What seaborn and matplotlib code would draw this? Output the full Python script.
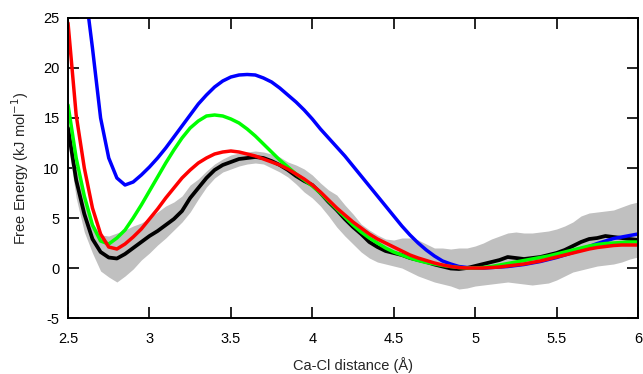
import numpy as np
import pandas as pd
import matplotlib
matplotlib.use('Agg')
import matplotlib.pyplot as plt
import seaborn as sns

# ---------------- data (x step 0.05 A) ----------------
dist = np.round(np.arange(2.5, 6.0001, 0.05), 2)

black = [14.0, 8.8, 5.4, 2.9, 1.6, 1.05, 0.95, 1.4, 2.0, 2.6,
         3.2, 3.7, 4.3, 4.9, 5.7, 7.0, 8.0, 9.0, 9.8, 10.3,
         10.6, 10.9, 11.0, 11.1, 11.0, 10.7, 10.3, 9.8, 9.2, 8.7,
         8.3, 7.5, 6.6, 5.8, 4.9, 4.1, 3.4, 2.6, 2.1, 1.7,
         1.5, 1.3, 1.0, 0.8, 0.6, 0.35, 0.15, -0.05, -0.1, 0.0,
         0.2, 0.4, 0.6, 0.8, 1.1, 1.0, 0.9, 1.0, 1.1, 1.3,
         1.5, 1.8, 2.2, 2.6, 2.9, 3.0, 3.2, 3.1, 3.0, 2.9, 2.8]

band_hi = [14.8, 10.0, 6.8, 4.5, 3.3, 3.2, 3.5, 3.8, 4.2, 4.5,
           5.0, 5.6, 6.2, 6.6, 7.2, 8.3, 8.9, 9.7, 10.4, 10.9,
           11.3, 11.5, 11.6, 11.7, 11.6, 11.4, 11.1, 10.6, 10.3, 9.9,
           9.3, 8.5, 7.8, 7.3, 6.3, 5.4, 4.4, 3.8, 3.3, 2.9,
           2.8, 3.0, 3.0, 2.8, 2.4, 2.0, 2.0, 1.9, 2.0, 2.0,
           2.2, 2.5, 2.9, 3.2, 3.5, 3.6, 3.5, 3.5, 3.6, 3.7,
           3.9, 4.2, 4.6, 5.2, 5.5, 5.6, 5.7, 5.8, 6.1, 6.4, 6.6]

band_lo = [12.5, 7.0, 3.6, 1.5, -0.3, -0.9, -1.4, -0.8, -0.1, 0.8,
           1.5, 2.3, 3.0, 3.8, 4.6, 5.6, 6.9, 8.1, 9.0, 9.6,
           9.9, 10.2, 10.4, 10.5, 10.4, 10.0, 9.6, 9.1, 8.4, 7.6,
           7.0, 6.2, 5.2, 4.1, 3.2, 2.4, 1.6, 1.0, 0.6, 0.4,
           0.2, 0.0, -0.4, -0.8, -1.1, -1.4, -1.6, -1.8, -2.1, -2.0,
           -1.8, -1.7, -1.6, -1.5, -1.4, -1.5, -1.6, -1.7, -1.6, -1.5,
           -1.2, -0.8, -0.4, -0.2, 0.0, 0.2, 0.3, 0.4, 0.6, 0.9, 1.1]

blue = [44.0, 36.0, 28.5, 22.0, 15.0, 11.0, 9.0, 8.3, 8.6, 9.3,
        10.1, 11.0, 12.0, 13.1, 14.2, 15.3, 16.4, 17.3, 18.1, 18.7,
        19.1, 19.3, 19.35, 19.3, 19.0, 18.6, 18.0, 17.3, 16.6, 15.8,
        14.9, 13.9, 13.0, 12.1, 11.2, 10.2, 9.2, 8.2, 7.2, 6.2,
        5.2, 4.2, 3.3, 2.5, 1.8, 1.2, 0.7, 0.4, 0.15, 0.05,
        0.0, 0.0, 0.05, 0.1, 0.15, 0.25, 0.35, 0.5, 0.65, 0.85,
        1.05, 1.3, 1.55, 1.85, 2.15, 2.45, 2.7, 2.95, 3.1, 3.25, 3.4]

green = [16.3, 11.0, 7.2, 4.3, 2.7, 2.4, 3.0, 3.8, 5.0, 6.3,
         7.7, 9.1, 10.5, 11.8, 13.0, 14.0, 14.7, 15.2, 15.3, 15.2,
         14.9, 14.5, 13.9, 13.2, 12.4, 11.6, 10.8, 10.1, 9.4, 8.8,
         8.2, 7.5, 6.7, 5.9, 5.1, 4.3, 3.6, 3.0, 2.5, 2.0,
         1.6, 1.3, 1.0, 0.75, 0.55, 0.4, 0.25, 0.15, 0.05, 0.0,
         0.0, 0.05, 0.15, 0.3, 0.45, 0.6, 0.75, 0.9, 1.05, 1.2,
         1.4, 1.6, 1.8, 2.0, 2.2, 2.35, 2.45, 2.5, 2.55, 2.6, 2.6]

red = [24.5, 15.3, 10.0, 6.0, 3.4, 2.1, 1.9, 2.4, 3.1, 3.9,
       4.9, 5.9, 7.0, 8.0, 9.0, 9.8, 10.5, 11.0, 11.4, 11.6,
       11.7, 11.6, 11.4, 11.2, 10.9, 10.6, 10.3, 9.9, 9.4, 8.9,
       8.3, 7.6, 6.8, 6.0, 5.3, 4.6, 4.0, 3.4, 2.9, 2.5,
       2.1, 1.7, 1.3, 1.0, 0.75, 0.5, 0.3, 0.15, 0.05, 0.0,
       0.0, 0.0, 0.05, 0.1, 0.2, 0.3, 0.4, 0.55, 0.7, 0.9,
       1.1, 1.3, 1.5, 1.7, 1.9, 2.05, 2.15, 2.25, 2.3, 2.3, 2.3]

df = pd.DataFrame({'dist': dist, 'black': black, 'lo': band_lo, 'hi': band_hi,
                   'blue': blue, 'green': green, 'red': red})

# ---------------- plot ----------------
sns.set_style('ticks')
plt.rcParams['font.family'] = ['Liberation Sans', 'DejaVu Sans']

fig, ax = plt.subplots(figsize=(6.43, 3.74), dpi=100)
fig.subplots_adjust(left=0.1058, right=0.9922, top=0.9519, bottom=0.1497)

ax.fill_between(df['dist'], df['lo'], df['hi'], color='#c0c0c0', lw=0)
sns.lineplot(data=df, x='dist', y='black', color='black', lw=2.7, ax=ax)
sns.lineplot(data=df, x='dist', y='blue', color='#0000ff', lw=2.5, ax=ax)
sns.lineplot(data=df, x='dist', y='green', color='#00ff00', lw=2.5, ax=ax)
sns.lineplot(data=df, x='dist', y='red', color='#ff0000', lw=2.5, ax=ax)

ax.set_xlim(2.5, 6)
ax.set_ylim(-5, 25)
ax.set_xticks([2.5, 3, 3.5, 4, 4.5, 5, 5.5, 6])
ax.set_xticklabels(['2.5', '3', '3.5', '4', '4.5', '5', '5.5', '6'])
ax.set_yticks([-5, 0, 5, 10, 15, 20, 25])
ax.set_yticklabels(['-5', '0', '5', '10', '15', '20', '25'])
ax.tick_params(direction='in', top=True, right=True, length=8, width=1.2,
               labelsize=10.5, colors='black')
ax.tick_params(axis='x', pad=10)
ax.tick_params(axis='y', pad=6)
for s in ax.spines.values():
    s.set_linewidth(1.4)
    s.set_color('black')

ax.set_xlabel('Ca-Cl distance (Å)', fontsize=10.5, labelpad=8)
ax.set_ylabel('Free Energy (kJ mol$^{-1}$)', fontsize=10.5, labelpad=9)

fig.savefig('out.png', dpi=100)
